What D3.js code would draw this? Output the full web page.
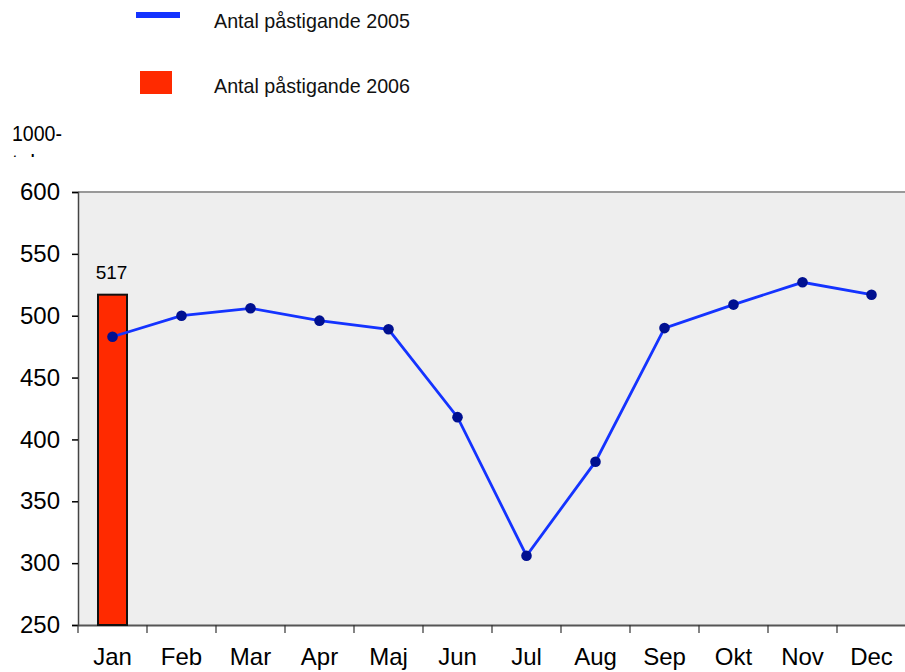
<!DOCTYPE html>
<html><head><meta charset="utf-8">
<script src="https://cdn.jsdelivr.net/npm/d3@7"></script>
<style>body{margin:0;background:#fff}svg{display:block}</style>
</head><body>
<svg id="c" width="905" height="672"></svg>
<script>
const months = ["Jan","Feb","Mar","Apr","Maj","Jun","Jul","Aug","Sep","Okt","Nov","Dec"];
const values2005 = [483,500,506,496,489,418,306,382,490,509,527,517];
const months2006 = ["Jan"];
const values2006 = [517];
const yTicks = [250,300,350,400,450,500,550,600];
const legendLabels = ["Antal påstigande 2005","Antal påstigande 2006"];
const unitLabel = "1000-";
const unitLabel2 = "tal";

const svg = d3.select("#c");
const font = "'Liberation Sans', Arial, sans-serif";
const L = 78, R = 906, T = 192, B = 625;

const x = d3.scaleBand().domain(months).range([L, R]).padding(0);
const y = d3.scaleLinear().domain([250, 600]).range([B, T]);

svg.append("rect").attr("x", L).attr("y", T).attr("width", R - L).attr("height", B - T).attr("fill", "#eeeeee");
svg.append("line").attr("x1", L).attr("x2", 905).attr("y1", T).attr("y2", T).attr("stroke", "#999").attr("stroke-width", 2);

// y axis
const ya = svg.append("g").attr("transform", `translate(${L},0)`)
  .call(d3.axisLeft(y).tickValues(yTicks).tickSize(6).tickPadding(12));
ya.select(".domain").attr("stroke", "#444").attr("stroke-width", 1.5);
ya.selectAll(".tick line").attr("stroke", "#000").attr("stroke-width", 1.5);
ya.selectAll("text").attr("font-family", font).attr("font-size", 24).attr("fill", "#000");

// x axis
const xa = svg.append("g").attr("transform", `translate(0,${B})`)
  .call(d3.axisBottom(x).tickSize(0).tickPadding(23));
xa.select(".domain").attr("stroke", "#555").attr("stroke-width", 2);
xa.selectAll("text").attr("font-family", font).attr("font-size", 24).attr("fill", "#000");
svg.append("g").selectAll("line").data(months).join("line")
  .attr("x1", d => x(d)).attr("x2", d => x(d)).attr("y1", B).attr("y2", B + 8)
  .attr("stroke", "#333").attr("stroke-width", 1.2);

// bars 2006
const bw = 29;
svg.append("g").selectAll("rect").data(values2006).join("rect")
  .attr("x", (d, i) => x(months2006[i]) + x.bandwidth() / 2 - bw / 2)
  .attr("y", d => y(d)).attr("width", bw).attr("height", d => B - y(d))
  .attr("fill", "#ff2a00").attr("stroke", "#111").attr("stroke-width", 2);
svg.append("g").selectAll("text").data(values2006).join("text")
  .attr("x", (d, i) => x(months2006[i]) + x.bandwidth() / 2 - 1)
  .attr("y", d => y(d) - 16).attr("text-anchor", "middle")
  .attr("font-family", font).attr("font-size", 19).text(d => d);

// line 2005
const cx = (d, i) => x(months[i]) + x.bandwidth() / 2;
svg.append("path").datum(values2005)
  .attr("d", d3.line().x(cx).y(d => y(d)))
  .attr("fill", "none").attr("stroke", "#1433ff").attr("stroke-width", 2.8);
svg.append("g").selectAll("circle").data(values2005).join("circle")
  .attr("cx", cx).attr("cy", d => y(d)).attr("r", 5.3).attr("fill", "#001090");

// legend
svg.append("rect").attr("x", 136).attr("y", 12).attr("width", 44).attr("height", 6).attr("fill", "#1433ff");
svg.append("rect").attr("x", 140).attr("y", 71).attr("width", 32).attr("height", 23).attr("fill", "#ff2a00");
svg.append("g").selectAll("text").data(legendLabels).join("text")
  .attr("x", 214).attr("y", (d, i) => 28 + i * 65)
  .attr("font-family", font).attr("font-size", 21).attr("fill", "#111")
  .attr("textLength", 196).attr("lengthAdjust", "spacingAndGlyphs").text(d => d);

// unit label
svg.append("text").attr("x", 12).attr("y", 141).attr("font-family", font).attr("font-size", 22)
  .attr("textLength", 50).attr("lengthAdjust", "spacingAndGlyphs").text(unitLabel);
svg.append("clipPath").attr("id", "uc").append("rect").attr("x", 0).attr("y", 153).attr("width", 80).attr("height", 4);
svg.append("text").attr("x", 12).attr("y", 170).attr("clip-path", "url(#uc)")
  .attr("font-family", font).attr("font-size", 22).text(unitLabel2);
</script>
</body></html>
